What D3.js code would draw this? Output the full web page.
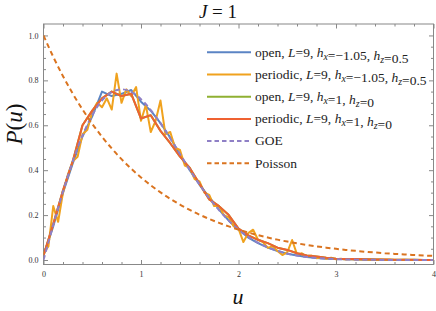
<!DOCTYPE html>
<html>
<head>
<meta charset="utf-8">
<script src="https://cdn.jsdelivr.net/npm/d3@7"></script>
<style>
  body { margin: 0; background: #fff; }
  svg { display: block; }
</style>
</head>
<body>
<div id="wrapper"></div>
<script>
// histogram grids (bin positions in u)
const uCoarse = d3.range(0, 4.0001, 0.1);
const uFine = d3.range(0, 4.0001, 0.05);

// open, L=9, hx=-1.05, hz=0.5
const openA = [0.02, 0.15, 0.30, 0.43, 0.55, 0.64, 0.75, 0.73, 0.74, 0.757,
  0.705, 0.665, 0.61, 0.545, 0.47, 0.40, 0.335, 0.28, 0.225, 0.175,
  0.135, 0.10, 0.075, 0.055, 0.04, 0.028, 0.02, 0.013, 0.009, 0.006,
  0.004, 0.003, 0.002, 0.001, 0.001, 0.0005, 0.0005, 0.0003, 0.0002, 0.0001, 0.0001];

// periodic, L=9, hx=-1.05, hz=0.5
const periodicA = [0.03, 0.06, 0.24, 0.17, 0.30, 0.38, 0.44, 0.46, 0.56, 0.58,
  0.66, 0.70, 0.68, 0.72, 0.67, 0.83, 0.70, 0.76, 0.73, 0.77,
  0.62, 0.69, 0.57, 0.62, 0.71, 0.56, 0.57, 0.50, 0.49, 0.42,
  0.41, 0.36, 0.35, 0.30, 0.29, 0.24, 0.24, 0.20, 0.19, 0.15,
  0.14, 0.08, 0.12, 0.135, 0.09, 0.08, 0.055, 0.06, 0.04, 0.022,
  0.035, 0.089, 0.025, 0.03, 0.015, 0.02, 0.008, 0.012, 0.006, 0.01,
  0.003, 0.006, 0.002, 0.004, 0.001, 0.003, 0.001, 0.002, 0.001, 0.001,
  0.0, 0.001, 0.0, 0.0, 0.001, 0.0, 0.0, 0.0, 0.0, 0.0, 0.0];

// periodic, L=9, hx=1, hz=0
const periodicB = [0.02, 0.16, 0.31, 0.44, 0.60, 0.665, 0.72, 0.75, 0.73, 0.74,
  0.63, 0.645, 0.575, 0.52, 0.46, 0.41, 0.34, 0.27, 0.24, 0.20,
  0.14, 0.11, 0.09, 0.075, 0.055, 0.045, 0.03, 0.02, 0.016, 0.01,
  0.006, 0.005, 0.004, 0.003, 0.002, 0.002, 0.001, 0.001, 0.001, 0.0005, 0.0005];

// open, L=9, hx=1, hz=0 (sits under the periodic one)
const openB = [0.02, 0.16, 0.31, 0.44, 0.60, 0.665, 0.72, 0.75, 0.73, 0.74,
  0.63, 0.645, 0.575, 0.52, 0.46, 0.41, 0.34, 0.27, 0.24, 0.20,
  0.14, 0.11, 0.09, 0.075, 0.055, 0.045, 0.03, 0.02, 0.016, 0.01,
  0.006, 0.005, 0.004, 0.003, 0.002, 0.002, 0.001, 0.001, 0.001, 0.0005, 0.0005];

// reference curves read at u = 0, 0.1, ... 4
const goe = [0, 0.1559, 0.3044, 0.4391, 0.5541, 0.6454, 0.7104, 0.7483, 0.7602, 0.7483,
  0.7162, 0.6680, 0.6083, 0.5415, 0.4717, 0.4025, 0.3366, 0.2759, 0.2220, 0.1752,
  0.1358, 0.1033, 0.0772, 0.0567, 0.0409, 0.0290, 0.0202, 0.0138, 0.0093, 0.0062,
  0.0040, 0.0026, 0.0016, 0.0010, 0.0006, 0.0004, 0.0002, 0.0001, 0.0001, 0, 0];
const poisson = [1, 0.9048, 0.8187, 0.7408, 0.6703, 0.6065, 0.5488, 0.4966, 0.4493, 0.4066,
  0.3679, 0.3329, 0.3012, 0.2725, 0.2466, 0.2231, 0.2019, 0.1827, 0.1653, 0.1496,
  0.1353, 0.1225, 0.1108, 0.1003, 0.0907, 0.0821, 0.0743, 0.0672, 0.0608, 0.0550,
  0.0498, 0.0450, 0.0408, 0.0369, 0.0334, 0.0302, 0.0273, 0.0247, 0.0224, 0.0202, 0.0183];

const xTicks = [0, 1, 2, 3, 4];
const yTicks = [0, 0.2, 0.4, 0.6, 0.8, 1.0];

const serif = "'Liberation Serif', 'Times New Roman', serif";

let dimensions = {
  width: 436,
  height: 311,
  left: 43.5, right: 433.5, top: 24, bottom: 264.5,
};

const svg = d3.select("#wrapper").append("svg")
  .attr("width", dimensions.width)
  .attr("height", dimensions.height);

const xScale = d3.scaleLinear().domain([0, 4]).range([dimensions.left, dimensions.right]);
const yScale = d3.scaleLinear().domain([-0.02, 1.051]).range([dimensions.bottom, dimensions.top]);

svg.append("defs").append("clipPath").attr("id", "clip")
  .append("rect")
  .attr("x", dimensions.left).attr("y", dimensions.top)
  .attr("width", dimensions.right - dimensions.left)
  .attr("height", dimensions.bottom - dimensions.top);

// frame with ticks on all sides
const frameColor = "#888";
const xMinor = d3.range(0, 4.0001, 0.2).filter(v => Math.abs(v - Math.round(v)) > 1e-6);
const yMinor = d3.range(0, 1.0001, 0.05).filter(v => Math.abs(v * 5 - Math.round(v * 5)) > 1e-6);

function frameAxis(gen, scale, values, size, fmt, tx, ty, pad) {
  const g = svg.append("g")
    .attr("transform", `translate(${tx},${ty})`)
    .call(gen(scale).tickValues(values).tickSize(size).tickPadding(pad || 3).tickFormat(fmt));
  g.select(".domain").remove();
  g.selectAll("line").attr("stroke", frameColor);
  g.selectAll("text").attr("fill", "#333")
    .style("font-family", serif).style("font-size", "8px");
  return g;
}

frameAxis(d3.axisBottom, xScale, xTicks, -4.5, d3.format("d"), 0, dimensions.bottom, 7);
frameAxis(d3.axisBottom, xScale, xMinor, -2.5, () => "", 0, dimensions.bottom);
frameAxis(d3.axisTop, xScale, xTicks, -4.5, () => "", 0, dimensions.top);
frameAxis(d3.axisTop, xScale, xMinor, -2.5, () => "", 0, dimensions.top);
frameAxis(d3.axisLeft, yScale, yTicks, -4.5, d3.format(".1f"), dimensions.left, 0, 5);
frameAxis(d3.axisLeft, yScale, yMinor, -2.5, () => "", dimensions.left, 0);
frameAxis(d3.axisRight, yScale, yTicks, -4.5, () => "", dimensions.right, 0);
frameAxis(d3.axisRight, yScale, yMinor, -2.5, () => "", dimensions.right, 0);

svg.append("rect")
  .attr("x", dimensions.left).attr("y", dimensions.top)
  .attr("width", dimensions.right - dimensions.left)
  .attr("height", dimensions.bottom - dimensions.top)
  .attr("fill", "none").attr("stroke", frameColor).attr("stroke-width", 1);

// curves
const series = [
  { name: "openA", u: uCoarse, p: openA, color: "#5B84C4", dash: null, label: ["open, ", ["L"], "=9, ", ["h", "x"], "=\u22121.05, ", ["h", "z"], "=0.5"] },
  { name: "periodicA", u: uFine, p: periodicA, color: "#F0A21E", dash: null, label: ["periodic, ", ["L"], "=9, ", ["h", "x"], "=\u22121.05, ", ["h", "z"], "=0.5"] },
  { name: "openB", u: uCoarse, p: openB, color: "#8FB032", dash: null, label: ["open, ", ["L"], "=9, ", ["h", "x"], "=1, ", ["h", "z"], "=0"] },
  { name: "periodicB", u: uCoarse, p: periodicB, color: "#EF6131", dash: null, label: ["periodic, ", ["L"], "=9, ", ["h", "x"], "=1, ", ["h", "z"], "=0"] },
  { name: "goe", u: uCoarse, p: goe, color: "#8F80C6", dash: "5,3.5", label: ["GOE"] },
  { name: "poisson", u: uCoarse, p: poisson, color: "#DA7420", dash: "5,3.5", label: ["Poisson"] },
];

const plot = svg.append("g").attr("clip-path", "url(#clip)");

series.forEach(s => {
  const pts = s.u.map((u, i) => [u, s.p[i]]);
  const lineGenerator = d3.line()
    .x(d => xScale(d[0]))
    .y(d => yScale(d[1]))
    .curve(s.dash ? d3.curveMonotoneX : d3.curveLinear);
  plot.append("path")
    .datum(pts)
    .attr("d", lineGenerator)
    .attr("fill", "none")
    .attr("stroke", s.color)
    .attr("stroke-width", 2)
    .attr("stroke-linejoin", "round")
    .attr("stroke-dasharray", s.dash);
});

// legend
const legend = svg.append("g");
series.forEach((s, i) => {
  const yy = 52.3 + i * 22.2;
  legend.append("line")
    .attr("x1", 207).attr("x2", 251)
    .attr("y1", yy).attr("y2", yy)
    .attr("stroke", s.color).attr("stroke-width", 2)
    .attr("stroke-dasharray", s.dash ? "4.5,3" : null);
  const t = legend.append("text")
    .attr("x", 255).attr("y", yy + 4.2)
    .attr("fill", "#222")
    .style("font-family", serif)
    .style("font-size", "13.5px");
  s.label.forEach(part => {
    if (typeof part === "string") {
      t.append("tspan").text(part);
    } else {
      t.append("tspan").style("font-style", "italic").text(part[0]);
      if (part[1]) {
        t.append("tspan").attr("dy", 3).style("font-size", "10px").style("font-style", "italic").text(part[1]);
        t.append("tspan").attr("dy", -3).text("");
      }
    }
  });
});

// titles
svg.append("text")
  .attr("x", 218).attr("y", 18)
  .attr("text-anchor", "middle")
  .style("font-family", serif)
  .style("font-size", "19px")
  .attr("fill", "#111")
  .html('<tspan font-style="italic">J</tspan> = 1');

svg.append("text")
  .attr("transform", "translate(22,124) rotate(-90)")
  .attr("text-anchor", "middle")
  .style("font-family", serif)
  .style("font-size", "23px")
  .attr("fill", "#111")
  .html('<tspan font-style="italic">P</tspan>(<tspan font-style="italic">u</tspan>)');

svg.append("text")
  .attr("x", 238).attr("y", 304)
  .attr("text-anchor", "middle")
  .style("font-family", serif)
  .style("font-size", "22px")
  .style("font-style", "italic")
  .attr("fill", "#111")
  .text("u");
</script>
</body>
</html>
